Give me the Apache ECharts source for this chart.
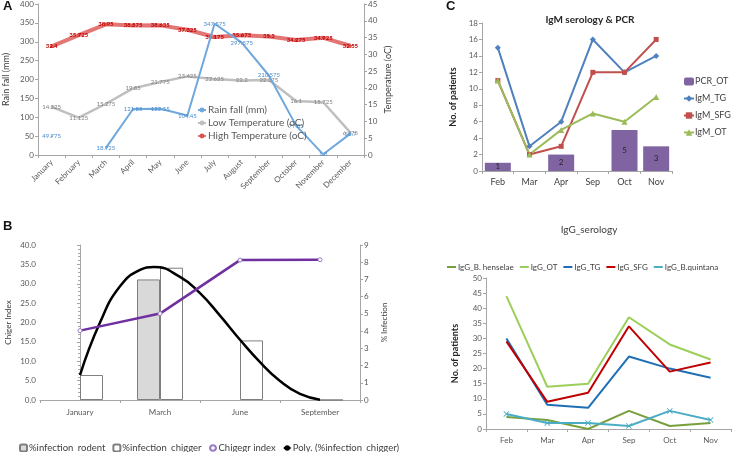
<!DOCTYPE html>
<html>
<head>
<meta charset="utf-8">
<script src="https://cdn.jsdelivr.net/npm/echarts@6/dist/echarts.min.js"></script>
<style>html,body{margin:0;padding:0;background:#fff;}#c{width:733px;height:452px;}</style>
</head>
<body>
<div id="c"></div>
<script>
// ---- Panel A ----
const monthsA = ['January','February','March','April','May','June','July','August','September','October','November','December'];
const rainfall = [49.775, null, 18.725, 121.85, 122.55, 104.45, 347.575, 297.575, 210.575, 77.85, 1.8, 56.7];
const lowTemp = [14.325, 11.125, 15.275, 19.85, 21.775, 23.425, 22.625, 22.2, 22.375, 16.1, 15.725, 6.675];
const highTemp = [32.4, 35.725, 38.95, 38.575, 38.635, 37.325, 35.175, 35.675, 35.3, 34.275, 34.925, 32.55];
// ---- Panel B ----
const monthsB = ['January','March','June','September'];
const infRodent = [null, 7.0, null, null];
const infChigger = [1.45, 7.68, 3.46, 0];
const chigerIndex = [17.9, 22.3, 36.1, 36.2];
const polyX = [0, 0.25, 0.5, 0.75, 0.92, 1.25, 1.5, 1.75, 2, 2.25, 2.5, 2.75, 3];
const polyY = [1.45, 4.5, 6.6, 7.55, 7.72, 7.15, 6.2, 4.9, 3.5, 2.2, 1.1, 0.35, 0.02];
// ---- Panel C ----
const monthsC = ['Feb','Mar','Apr','Sep','Oct','Nov'];
const pcrOT = [1, null, 2, null, 5, 3];
const igmTG = [15, 3, 6, 16, 12, 14];
const igmSFG = [11, 2, 3, 12, 12, 16];
const igmOT = [11, 2, 5, 7, 6, 9];
// ---- Panel D ----
const iggBH = [4, 3, 0, 6, 1, 2];
const iggOT = [44, 14, 15, 37, 28, 23];
const iggTG = [30, 8, 7, 24, 20, 17];
const iggSFG = [29, 9, 12, 34, 19, 22];
const iggBQ = [5, 2, 2, 1, 6, 3];

const FONT = 'Lato, "Liberation Sans", sans-serif';
const AX = '#a6a6a6';
const LBL = '#595959';

function catAxis(gi, data, extra) {
  return Object.assign({
    type: 'category', gridIndex: gi, data: data, boundaryGap: true,
    axisLine: {lineStyle: {color: AX}}, axisTick: {show: true, length: 3, lineStyle: {color: AX}},
    axisLabel: {color: LBL, fontSize: 8, fontFamily: FONT, margin: 6},
    splitLine: {show: false}
  }, extra || {});
}
function valAxis(gi, min, max, interval, extra) {
  return Object.assign({
    type: 'value', gridIndex: gi, min: min, max: max, interval: interval,
    axisLine: {show: true, lineStyle: {color: AX}}, axisTick: {show: true, length: 3, lineStyle: {color: AX}},
    axisLabel: {color: LBL, fontSize: 8, fontFamily: FONT, margin: 4},
    splitLine: {show: false},
    nameLocation: 'middle', nameRotate: 90,
    nameTextStyle: {color: '#404040', fontSize: 9, fontFamily: FONT}
  }, extra || {});
}

const chart = echarts.init(document.getElementById('c'), null, {renderer: 'canvas'});
const option = {
  animation: false,
  textStyle: {fontFamily: FONT},
  title: [
    {text: 'IgM serology & PCR', left: 585, top: 10, textAlign: 'center',
     textStyle: {fontSize: 10, fontWeight: 'bold', color: '#262626', fontFamily: FONT}},
    {text: 'IgG_serology', left: 584, top: 220, textAlign: 'center',
     textStyle: {fontSize: 10, fontWeight: 'normal', color: '#404040', fontFamily: FONT}}
  ],
  graphic: [
    {type: 'text', left: 3, top: 0, style: {text: 'A', font: 'bold 13px Arial', fill: '#111'}},
    {type: 'text', left: 3, top: 220, style: {text: 'B', font: 'bold 13px Arial', fill: '#111'}},
    {type: 'text', left: 446, top: 0, style: {text: 'C', font: 'bold 13px Arial', fill: '#111'}}
  ],
  grid: [
    {left: 38, top: 4, width: 326, height: 151},
    {left: 40, top: 245, width: 320, height: 155},
    {left: 482, top: 23, width: 190, height: 148},
    {left: 486, top: 278, width: 245, height: 151}
  ],
  legend: [
    {data: ['Rain fall (mm)', 'Low Temperature (oC)', 'High Temperature (oC)'],
     orient: 'vertical', left: 192, top: 100, itemGap: 3, itemWidth: 8, itemHeight: 6,
     textStyle: {fontSize: 10, color: '#595959', fontFamily: FONT, padding: [0, 0, 0, -3]}},
    {data: ['%infection_rodent', '%infection_chigger', 'Chigegr index', 'Poly. (%infection_chigger)'],
     orient: 'horizontal', left: 14, top: 438, itemGap: 7, itemWidth: 7, itemHeight: 7,
     textStyle: {fontSize: 9.5, color: '#404040', fontFamily: FONT, padding: [0, 0, 0, -3]}},
    {data: ['PCR_OT', 'IgM_TG', 'IgM_SFG', 'IgM_OT'],
     orient: 'vertical', left: 678, top: 72, itemGap: 8, itemWidth: 10, itemHeight: 8,
     textStyle: {fontSize: 9, color: '#404040', fontFamily: FONT, padding: [0, 0, 0, -4]}},
    {data: ['IgG_B. henselae', 'IgG_OT', 'IgG_TG', 'IgG_SFG', 'IgG_B.quintana'],
     orient: 'horizontal', left: 442, top: 258, width: 291, itemGap: 6, itemWidth: 9, itemHeight: 2,
     icon: 'rect',
     textStyle: {fontSize: 8, color: '#404040', fontFamily: FONT, padding: [0, 0, 0, -3]}}
  ],
  xAxis: [
    catAxis(0, monthsA, {axisLabel: {color: LBL, fontSize: 8, fontFamily: FONT, rotate: 45, margin: 6, interval: 0}}),
    catAxis(1, monthsB, {axisLabel: {color: LBL, fontSize: 8, fontFamily: FONT, margin: 8}}),
    {type: 'value', gridIndex: 1, min: -0.5, max: 3.5, show: false},
    catAxis(2, monthsC, {axisLabel: {color: '#404040', fontSize: 9, fontFamily: FONT, margin: 7}}),
    catAxis(3, monthsC, {axisLabel: {color: LBL, fontSize: 8, fontFamily: FONT, margin: 7}})
  ],
  yAxis: [
    valAxis(0, 0, 400, 50, {name: 'Rain fall (mm)', nameGap: 27}),
    valAxis(0, 0, 45, 5, {position: 'right', name: 'Temperature (oC)', nameGap: 20}),
    valAxis(1, 0, 40, 5, {name: 'Chiger Index', nameGap: 28,
      axisLabel: {color: LBL, fontSize: 8, fontFamily: FONT, margin: 4, formatter: v => v.toFixed(1)},
      minorTick: {show: true, splitNumber: 5, length: 2, lineStyle: {color: AX}},
      nameTextStyle: {color: '#404040', fontSize: 8, fontFamily: FONT}}),
    valAxis(1, 0, 9, 1, {position: 'right', name: '% Infection', nameGap: 20,
      nameTextStyle: {color: '#404040', fontSize: 8, fontFamily: FONT}}),
    valAxis(2, 0, 18, 2, {name: 'No. of patients', nameGap: 24,
      nameTextStyle: {color: '#262626', fontSize: 9, fontWeight: 'bold', fontFamily: FONT}}),
    valAxis(3, 0, 50, 5, {name: 'No. of patients', nameGap: 26,
      nameTextStyle: {color: '#262626', fontSize: 9, fontWeight: 'bold', fontFamily: FONT}})
  ],
  series: [
    // Panel A
    {name: 'Rain fall (mm)', type: 'line', xAxisIndex: 0, yAxisIndex: 0, data: rainfall,
     symbol: 'circle', symbolSize: 2, connectNulls: false,
     lineStyle: {color: '#6fa8dc', width: 2}, itemStyle: {color: '#6fa8dc'},
     label: {show: true, position: 'inside', fontSize: 6, color: '#4a8ccc', fontFamily: FONT}, z: 3},
    {name: 'Low Temperature (oC)', type: 'line', xAxisIndex: 0, yAxisIndex: 1, data: lowTemp,
     symbol: 'circle', symbolSize: 2,
     lineStyle: {color: '#bfbfbf', width: 2.5}, itemStyle: {color: '#bfbfbf'},
     label: {show: true, position: 'inside', fontSize: 6, color: '#7f7f7f', fontFamily: FONT}, z: 2},
    {name: 'High Temperature (oC)', type: 'line', xAxisIndex: 0, yAxisIndex: 1, data: highTemp,
     symbol: 'circle', symbolSize: 3,
     lineStyle: {color: '#e06666', width: 4, opacity: 0.9}, itemStyle: {color: '#d9534f'},
     label: {show: true, position: 'inside', fontSize: 6, fontWeight: 'bold', color: '#c00000', fontFamily: FONT}, z: 2},
    // Panel B
    {name: '%infection_rodent', type: 'bar', xAxisIndex: 1, yAxisIndex: 3, data: infRodent,
     barWidth: 23, barGap: '0%',
     itemStyle: {color: '#d9d9d9', borderColor: '#7f7f7f', borderWidth: 1}},
    {name: '%infection_chigger', type: 'bar', xAxisIndex: 1, yAxisIndex: 3, data: infChigger,
     barWidth: 23, barGap: '0%',
     itemStyle: {color: '#ffffff', borderColor: '#7f7f7f', borderWidth: 1}},
    {name: 'Chigegr index', type: 'line', xAxisIndex: 1, yAxisIndex: 2, data: chigerIndex,
     symbol: 'circle', symbolSize: 4, z: 4,
     lineStyle: {color: '#7030a0', width: 2.5},
     itemStyle: {color: '#ffffff', borderColor: '#9a7cc4', borderWidth: 1}},
    {name: 'Poly. (%infection_chigger)', type: 'line', xAxisIndex: 2, yAxisIndex: 3,
     data: polyX.map((x, i) => [x, polyY[i]]), smooth: 0.5, symbol: 'none', z: 3,
     lineStyle: {color: '#000000', width: 2.5}, itemStyle: {color: '#000000'}},
    // Panel C
    {name: 'PCR_OT', type: 'bar', xAxisIndex: 3, yAxisIndex: 4, data: pcrOT, barWidth: 26,
     itemStyle: {color: '#8064a2'},
     label: {show: true, position: 'inside', fontSize: 8, color: '#262626', fontFamily: FONT}},
    {name: 'IgM_TG', type: 'line', xAxisIndex: 3, yAxisIndex: 4, data: igmTG,
     symbol: 'diamond', symbolSize: 6, lineStyle: {color: '#4f81bd', width: 2}, itemStyle: {color: '#4f81bd'}},
    {name: 'IgM_SFG', type: 'line', xAxisIndex: 3, yAxisIndex: 4, data: igmSFG,
     symbol: 'rect', symbolSize: 5, lineStyle: {color: '#c0504d', width: 2}, itemStyle: {color: '#c0504d'}},
    {name: 'IgM_OT', type: 'line', xAxisIndex: 3, yAxisIndex: 4, data: igmOT,
     symbol: 'triangle', symbolSize: 6, lineStyle: {color: '#9bbb59', width: 2}, itemStyle: {color: '#9bbb59'}},
    // Panel D
    {name: 'IgG_B. henselae', type: 'line', xAxisIndex: 4, yAxisIndex: 5, data: iggBH, symbol: 'none',
     lineStyle: {color: '#77a03c', width: 2}, itemStyle: {color: '#77a03c'}},
    {name: 'IgG_OT', type: 'line', xAxisIndex: 4, yAxisIndex: 5, data: iggOT, symbol: 'none',
     lineStyle: {color: '#9ccf5a', width: 2}, itemStyle: {color: '#9ccf5a'}},
    {name: 'IgG_TG', type: 'line', xAxisIndex: 4, yAxisIndex: 5, data: iggTG, symbol: 'none',
     lineStyle: {color: '#1f6fb4', width: 2}, itemStyle: {color: '#1f6fb4'}},
    {name: 'IgG_SFG', type: 'line', xAxisIndex: 4, yAxisIndex: 5, data: iggSFG, symbol: 'none',
     lineStyle: {color: '#c00000', width: 2}, itemStyle: {color: '#c00000'}},
    {name: 'IgG_B.quintana', type: 'line', xAxisIndex: 4, yAxisIndex: 5, data: iggBQ,
     symbol: 'path://M0,1L1,0L5,4L9,0L10,1L6,5L10,9L9,10L5,6L1,10L0,9L4,5Z', symbolSize: 6,
     lineStyle: {color: '#4bacc6', width: 2}, itemStyle: {color: '#4bacc6'}}
  ]
};
chart.setOption(option);
</script>
</body>
</html>
